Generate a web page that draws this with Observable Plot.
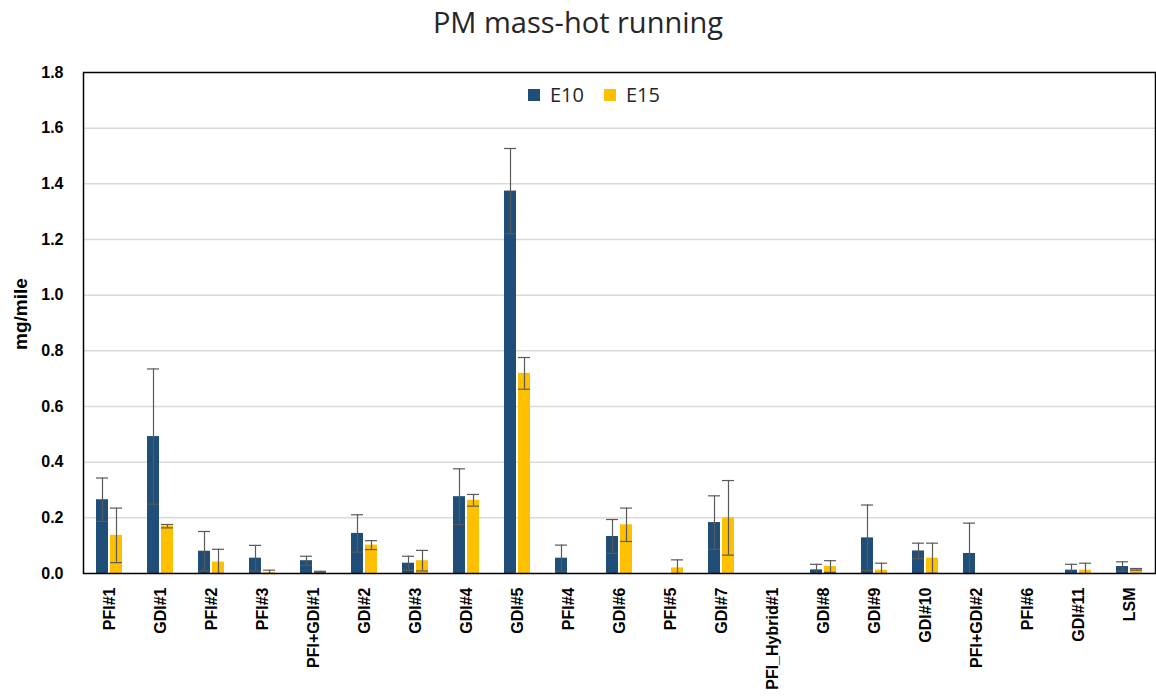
<!DOCTYPE html>
<html>
<head>
<meta charset="utf-8">
<script src="https://cdn.jsdelivr.net/npm/d3@7"></script>
<script src="https://cdn.jsdelivr.net/npm/@observablehq/plot@0.6"></script>
<style>
  body { margin: 0; background: #fff; }
  #wrap { position: relative; width: 1156px; height: 700px; }
  #title { height: 50px; line-height: 44px; text-align: center; font-family: "Open Sans", sans-serif; font-size: 29px; color: #262626; }
  #legend { position: absolute; left: 528px; top: 78px; }
</style>
</head>
<body>
<div id="wrap">
  <div id="title">PM mass-hot running</div>
  <div id="chart"></div>
  <div id="legend"></div>
</div>
<script>
const categories = ["PFI#1","GDI#1","PFI#2","PFI#3","PFI+GDI#1","GDI#2","GDI#3","GDI#4","GDI#5","PFI#4","GDI#6","PFI#5","GDI#7","PFI_Hybrid#1","GDI#8","GDI#9","GDI#10","PFI+GDI#2","PFI#6","GDI#11","LSM"];
const series = ["E10", "E15"];
const e10 =    [0.265, 0.492, 0.080, 0.055, 0.046, 0.144, 0.037, 0.276, 1.374, 0.055, 0.133, null, 0.183, null, 0.013, 0.128, 0.081, 0.072, null, 0.012, 0.025];
const e10Err = [0.078, 0.243, 0.071, 0.046, 0.016, 0.067, 0.025, 0.100, 0.153, 0.047, 0.061, null, 0.096, null, 0.020, 0.118, 0.028, 0.109, null, 0.021, 0.017];
const e15 =    [0.137, 0.170, 0.041, 0.003, 0.006, 0.102, 0.046, 0.263, 0.719, null, 0.175, 0.020, 0.200, null, 0.025, 0.012, 0.055, null, null, 0.012, 0.015];
const e15Err = [0.098, 0.006, 0.046, 0.009, 0.002, 0.016, 0.037, 0.021, 0.057, null, 0.060, 0.029, 0.134, null, 0.021, 0.025, 0.054, null, null, 0.025, 0.003];
const yTicks = [0, 0.2, 0.4, 0.6, 0.8, 1.0, 1.2, 1.4, 1.6, 1.8];
const colors = ["#1F4E79", "#FFC000"];

function rows(vals, errs) {
  return categories.map((c, i) => ({cat: c, v: vals[i], e: errs[i]}))
    .filter(d => d.v != null)
    .map(d => ({...d, lo: Math.max(0, d.v - d.e), hi: d.v + d.e}));
}
const d10 = rows(e10, e10Err);
const d15 = rows(e15, e15Err);

const errColor = "#595959";
const font = "Liberation Sans, Arial, sans-serif";

const chart = Plot.plot({
  width: 1156,
  height: 650,
  marginLeft: 83,
  marginRight: 1,
  marginTop: 22,
  marginBottom: 127,
  style: {fontFamily: font, color: "#000"},
  x: {domain: categories, paddingInner: 0.5, paddingOuter: 0.25, label: null},
  y: {domain: [0, 1.8], label: null},
  marks: [
    Plot.gridY({ticks: yTicks.slice(1, -1), stroke: "#d9d9d9", strokeOpacity: 1, strokeWidth: 1.5}),
    Plot.barY(d10, {x: "cat", y: "v", fill: colors[0], insetLeft: 0, insetRight: 14}),
    Plot.barY(d15, {x: "cat", y: "v", fill: colors[1], insetLeft: 14, insetRight: 0}),
    Plot.ruleX(d10, {x: "cat", y1: "lo", y2: "hi", dx: -7, stroke: errColor, strokeWidth: 1.2}),
    Plot.ruleX(d15, {x: "cat", y1: "lo", y2: "hi", dx: 7, stroke: errColor, strokeWidth: 1.2}),
    Plot.tickY(d10, {x: "cat", y: "hi", insetLeft: 0, insetRight: 14, stroke: errColor, strokeWidth: 1.2}),
    Plot.tickY(d10, {x: "cat", y: "lo", insetLeft: 0, insetRight: 14, stroke: errColor, strokeWidth: 1.2}),
    Plot.tickY(d15, {x: "cat", y: "hi", insetLeft: 14, insetRight: 0, stroke: errColor, strokeWidth: 1.2}),
    Plot.tickY(d15, {x: "cat", y: "lo", insetLeft: 14, insetRight: 0, stroke: errColor, strokeWidth: 1.2}),
    Plot.axisY({ticks: yTicks, tickFormat: d3.format(".1f"), tickSize: 0, tickPadding: 20, fontSize: 16, fontWeight: "bold", label: null}),
    Plot.axisX({tickSize: 0, tickRotate: -90, tickPadding: 14, fontSize: 16, fontWeight: "bold", label: null}),
    Plot.text(["mg/mile"], {frameAnchor: "left", textAnchor: "middle", dx: -63, dy: -9, rotate: -90, fontSize: 19, fontWeight: "bold", fill: "#000"}),
    Plot.frame({stroke: "#000", strokeWidth: 1.5})
  ]
});
document.getElementById("chart").appendChild(chart);

const legend = Plot.legend({
  color: {type: "ordinal", domain: series, range: colors},
  swatchSize: 12,
  style: {fontFamily: "Open Sans, sans-serif", fontSize: "20px", color: "#262626"}
});
document.getElementById("legend").appendChild(legend);
</script>
</body>
</html>
